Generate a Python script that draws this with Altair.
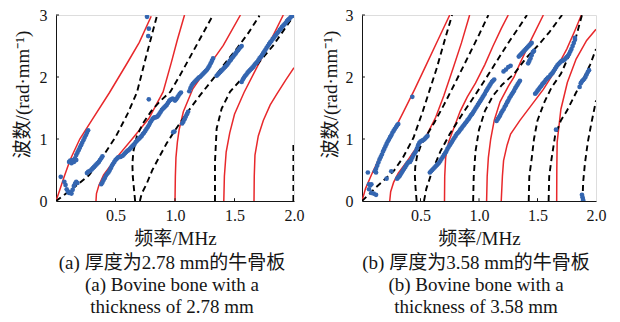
import altair as alt
import pandas as pd

SERIF = "Liberation Serif, Noto Sans CJK SC"
RED = "#e8282b"
BLUE = "#3466b1"
INK = "#151515"

# ---------------- panel (a): 2.78 mm ----------------
A_RED = [
    ([0, 0.03, 0.07, 0.12, 0.2, 0.3, 0.45, 0.6, 0.7, 0.8],
     [0, 0.17, 0.4, 0.67, 1.0, 1.3, 1.75, 2.23, 2.56, 2.98]),
    ([0.336, 0.34, 0.36, 0.4, 0.5, 0.64, 0.78, 0.9, 0.97, 1.02, 1.08],
     [0, 0.12, 0.25, 0.42, 0.68, 1.0, 1.33, 1.76, 2.24, 2.6, 3.0]),
    ([1.0, 1.003, 1.008, 1.02, 1.035, 1.07, 1.15, 1.266, 1.406, 1.55],
     [0, 0.4, 0.7, 0.95, 1.15, 1.44, 1.81, 2.13, 2.51, 3.0]),
    ([1.41, 1.415, 1.43, 1.46, 1.5, 1.58, 1.66, 1.74, 1.82, 1.91],
     [0, 0.4, 0.79, 1.1, 1.4, 1.75, 2.05, 2.35, 2.65, 3.0]),
    ([1.664, 1.666, 1.672, 1.7, 1.742, 1.8, 1.854, 1.93, 2.0],
     [0, 0.4, 0.74, 1.05, 1.3, 1.55, 1.72, 1.95, 2.15]),
]
A_DASH = [
    ([0, 0.14, 0.28, 0.38, 0.5, 0.6, 0.68, 0.76, 0.85],
     [0, 0.2, 0.42, 0.68, 1.03, 1.4, 1.75, 2.35, 3.0]),
    ([0.665, 0.655, 0.645, 0.642, 0.65, 0.68, 0.73, 0.8, 0.88, 0.96, 1.04, 1.12, 1.2, 1.26, 1.32],
     [0, 0.2, 0.4, 0.6, 0.8, 1.05, 1.25, 1.45, 1.62, 1.76, 2.02, 2.3, 2.58, 2.79, 3.0]),
    ([0.705, 0.72, 0.76, 0.81, 0.87, 0.93, 1.0, 1.1, 1.2, 1.32, 1.42, 1.52, 1.62, 1.71],
     [0, 0.12, 0.27, 0.5, 0.72, 0.93, 1.14, 1.42, 1.68, 1.97, 2.22, 2.46, 2.72, 2.99]),
    ([1.336, 1.336, 1.35, 1.392, 1.462, 1.56, 1.686, 1.826, 1.98],
     [0, 0.63, 1.17, 1.49, 1.76, 1.97, 2.19, 2.51, 2.94]),
    ([1.995, 1.995], [0, 0.95]),
]
A_PTS = [
    (0.04, 0.39), (0.07, 0.31), (0.08, 0.26), (0.09, 0.19), (0.10, 0.15), (0.11, 0.13), (0.12, 0.14),
    (0.13, 0.12), (0.14, 0.18), (0.15, 0.24), (0.16, 0.28), (0.17, 0.31), (0.18, 0.29),
    (0.11, 0.63), (0.12, 0.65), (0.13, 0.61), (0.14, 0.66), (0.15, 0.63), (0.16, 0.69), (0.17, 0.66),
    (0.17, 0.74), (0.18, 0.78), (0.19, 0.82), (0.20, 0.86), (0.21, 0.90), (0.22, 0.94), (0.23, 0.98),
    (0.24, 1.02), (0.25, 1.06), (0.26, 1.10), (0.27, 1.14),
    (0.26, 0.45), (0.27, 0.47), (0.28, 0.48), (0.29, 0.49), (0.30, 0.51), (0.31, 0.53), (0.32, 0.55),
    (0.33, 0.57), (0.34, 0.59), (0.35, 0.61), (0.36, 0.63), (0.37, 0.66), (0.38, 0.69), (0.39, 0.72),
    (0.38, 0.27), (0.39, 0.30), (0.40, 0.34), (0.41, 0.37), (0.42, 0.41), (0.43, 0.44), (0.44, 0.46),
    (0.45, 0.49), (0.46, 0.53), (0.47, 0.57), (0.48, 0.60), (0.49, 0.63), (0.50, 0.66), (0.51, 0.68),
    (0.52, 0.70), (0.53, 0.71), (0.54, 0.71), (0.55, 0.72), (0.56, 0.73), (0.57, 0.75), (0.58, 0.77),
    (0.59, 0.79), (0.60, 0.81), (0.61, 0.82), (0.62, 0.84), (0.63, 0.86), (0.64, 0.88), (0.65, 0.90),
    (0.66, 0.92), (0.67, 0.95), (0.68, 0.97), (0.69, 0.99), (0.70, 1.01), (0.71, 1.03), (0.72, 1.05),
    (0.73, 1.08), (0.74, 1.10), (0.75, 1.13), (0.76, 1.16), (0.77, 1.19), (0.78, 1.22), (0.79, 1.26),
    (0.80, 1.29), (0.81, 1.32), (0.82, 1.34), (0.83, 1.35), (0.84, 1.35), (0.85, 1.36), (0.86, 1.38),
    (0.87, 1.41), (0.88, 1.44), (0.89, 1.47), (0.90, 1.49), (0.91, 1.51), (0.92, 1.53), (0.93, 1.55),
    (0.94, 1.58), (0.95, 1.61), (0.96, 1.63), (0.97, 1.64), (0.98, 1.65), (0.99, 1.64), (1.00, 1.62),
    (1.01, 1.64), (1.02, 1.67), (1.03, 1.70), (1.04, 1.73), (1.05, 1.75),
    (0.78, 1.64), (0.775, 2.66), (0.78, 2.78), (0.765, 2.97), (0.985, 1.11), (0.995, 1.12),
    (1.06, 1.25), (1.07, 1.28), (1.08, 1.32), (1.09, 1.36), (1.10, 1.40), (1.11, 1.44),
    (1.12, 1.77), (1.13, 1.82), (1.14, 1.86), (1.15, 1.89), (1.16, 1.91), (1.17, 1.93), (1.18, 1.95),
    (1.19, 1.97), (1.20, 1.99), (1.21, 2.00), (1.22, 2.02), (1.23, 2.04), (1.24, 2.06), (1.25, 2.08),
    (1.26, 2.10), (1.27, 2.12), (1.28, 2.15), (1.29, 2.18), (1.30, 2.22), (1.31, 2.26), (1.32, 2.30),
    (1.35, 2.02), (1.36, 2.04), (1.37, 2.06), (1.38, 2.08), (1.39, 2.10), (1.40, 2.12), (1.41, 2.14),
    (1.42, 2.16), (1.43, 2.18), (1.44, 2.20), (1.45, 2.23), (1.46, 2.26), (1.47, 2.28), (1.48, 2.31),
    (1.49, 2.33), (1.50, 2.36), (1.51, 2.38), (1.52, 2.41), (1.53, 2.43), (1.54, 2.46), (1.55, 2.48),
    (1.56, 2.50),
    (1.56, 1.92), (1.57, 1.96), (1.58, 1.99), (1.59, 2.02), (1.60, 2.04), (1.61, 2.07), (1.62, 2.09),
    (1.63, 2.11), (1.64, 2.13), (1.65, 2.15), (1.66, 2.17), (1.67, 2.20), (1.68, 2.22), (1.69, 2.24),
    (1.70, 2.27), (1.71, 2.30), (1.72, 2.32), (1.73, 2.35), (1.74, 2.38), (1.75, 2.41), (1.76, 2.44),
    (1.77, 2.47), (1.78, 2.50), (1.79, 2.53), (1.80, 2.56), (1.81, 2.58), (1.82, 2.61), (1.83, 2.63),
    (1.84, 2.66), (1.85, 2.68), (1.86, 2.71), (1.87, 2.73), (1.88, 2.76), (1.89, 2.78), (1.90, 2.81),
    (1.91, 2.83), (1.92, 2.85), (1.93, 2.87), (1.94, 2.90), (1.95, 2.92), (1.96, 2.94), (1.97, 2.96),
    (1.98, 2.98), (1.99, 2.99),
]

# ---------------- panel (b): 3.58 mm ----------------
B_RED = [
    ([0, 0.03, 0.08, 0.15, 0.25, 0.35, 0.45, 0.55, 0.65, 0.75],
     [0, 0.2, 0.42, 0.7, 1.05, 1.42, 1.8, 2.2, 2.6, 3.0]),
    ([0.237, 0.245, 0.27, 0.31, 0.37, 0.45, 0.55, 0.63, 0.7, 0.78, 0.85, 0.92],
     [0, 0.15, 0.3, 0.45, 0.6, 0.82, 1.05, 1.35, 1.7, 2.15, 2.55, 3.0]),
    ([0.705, 0.707, 0.715, 0.74, 0.79, 0.84, 0.9, 0.97, 1.05, 1.12, 1.19, 1.25],
     [0, 0.4, 0.7, 0.95, 1.2, 1.45, 1.68, 1.9, 2.2, 2.5, 2.78, 3.0]),
    ([1.065, 1.07, 1.08, 1.1, 1.13, 1.18, 1.25, 1.3, 1.35, 1.45, 1.55],
     [0, 0.4, 0.7, 1.0, 1.3, 1.6, 1.85, 2.0, 2.22, 2.62, 3.0]),
    ([1.19, 1.2, 1.21, 1.24, 1.27, 1.35, 1.45, 1.55, 1.65, 1.75, 1.82, 1.875],
     [0, 0.4, 0.65, 0.9, 1.08, 1.3, 1.55, 1.8, 2.1, 2.45, 2.75, 3.0]),
    ([1.664, 1.665, 1.668, 1.7, 1.755, 1.83, 1.92, 2.0],
     [0, 0.5, 0.95, 1.48, 1.91, 2.29, 2.59, 2.77]),
]
B_DASH = [
    ([0, 0.12, 0.27, 0.35, 0.44, 0.52, 0.58, 0.64, 0.7, 0.77],
     [0, 0.22, 0.48, 0.7, 1.02, 1.45, 1.8, 2.15, 2.55, 3.0]),
    ([0.467, 0.458, 0.452, 0.455, 0.47, 0.5, 0.55, 0.62, 0.7, 0.8, 0.9, 1.0, 1.08],
     [0, 0.2, 0.4, 0.55, 0.72, 0.88, 1.05, 1.27, 1.55, 1.92, 2.3, 2.68, 3.0]),
    ([0.53, 0.55, 0.6, 0.67, 0.75, 0.85, 0.95, 1.05, 1.15, 1.25, 1.33, 1.41],
     [0, 0.2, 0.48, 0.8, 1.08, 1.38, 1.66, 1.95, 2.25, 2.55, 2.77, 3.0]),
    ([0.95, 0.955, 0.97, 1.0, 1.05, 1.12, 1.2, 1.3, 1.4, 1.5, 1.6, 1.71],
     [0, 0.4, 0.8, 1.15, 1.45, 1.7, 1.88, 2.05, 2.3, 2.5, 2.72, 3.0]),
    ([1.425, 1.43, 1.45, 1.47, 1.5, 1.56, 1.62, 1.7, 1.77, 1.83, 1.88],
     [0, 0.4, 0.68, 1.0, 1.3, 1.6, 1.83, 2.05, 2.35, 2.65, 3.0]),
    ([1.595, 1.6, 1.62, 1.65, 1.7, 1.75, 1.83, 1.9, 1.95, 2.0],
     [0, 0.4, 0.68, 1.05, 1.3, 1.45, 1.75, 2.0, 2.2, 2.45]),
    ([1.885, 1.89, 1.905, 1.93, 1.96, 1.985, 2.0],
     [0, 0.3, 0.6, 0.95, 1.25, 1.48, 1.62]),
]
B_PTS = [
    (0.05, 0.46), (0.06, 0.27), (0.07, 0.25), (0.08, 0.27), (0.06, 0.19), (0.08, 0.13), (0.10, 0.12),
    (0.12, 0.10), (0.21, 0.36), (0.25, 0.48), (0.43, 1.68),
    (0.11, 0.48), (0.12, 0.52), (0.12, 0.46), (0.13, 0.57), (0.14, 0.62), (0.15, 0.67), (0.16, 0.71),
    (0.17, 0.75), (0.18, 0.80), (0.19, 0.84), (0.20, 0.88), (0.21, 0.92), (0.22, 0.96), (0.23, 0.99),
    (0.24, 1.03), (0.25, 1.06), (0.26, 1.10), (0.27, 1.13), (0.28, 1.16), (0.29, 1.19), (0.30, 1.22),
    (0.31, 1.24),
    (0.30, 0.36), (0.31, 0.38), (0.32, 0.40), (0.33, 0.43), (0.34, 0.46), (0.35, 0.49), (0.36, 0.52),
    (0.37, 0.55), (0.38, 0.58), (0.39, 0.61), (0.40, 0.63), (0.41, 0.63), (0.42, 0.66), (0.43, 0.70),
    (0.44, 0.74), (0.45, 0.77), (0.46, 0.80), (0.47, 0.85), (0.48, 0.90), (0.49, 0.94), (0.50, 0.96),
    (0.51, 0.97), (0.52, 0.98), (0.53, 0.99), (0.54, 1.01), (0.55, 1.03), (0.56, 1.05),
    (0.58, 0.46), (0.59, 0.48), (0.60, 0.50), (0.61, 0.52), (0.62, 0.54), (0.63, 0.56), (0.64, 0.58),
    (0.65, 0.60), (0.66, 0.62), (0.67, 0.65), (0.68, 0.68), (0.69, 0.71), (0.70, 0.74), (0.71, 0.77),
    (0.72, 0.80), (0.73, 0.84), (0.74, 0.87), (0.75, 0.90), (0.76, 0.93), (0.77, 0.96), (0.78, 0.99),
    (0.79, 1.02), (0.80, 1.05), (0.81, 1.08), (0.82, 1.10), (0.83, 1.12), (0.84, 1.15), (0.85, 1.17),
    (0.86, 1.20), (0.87, 1.22), (0.88, 1.25), (0.89, 1.27), (0.90, 1.30), (0.91, 1.32), (0.92, 1.35),
    (0.93, 1.38), (0.94, 1.40), (0.95, 1.43), (0.96, 1.46), (0.97, 1.49), (0.98, 1.52), (0.99, 1.55),
    (1.00, 1.58), (1.01, 1.61), (1.02, 1.64), (1.03, 1.67), (1.04, 1.70), (1.05, 1.73), (1.06, 1.77),
    (1.07, 1.80), (1.08, 1.83), (1.09, 1.86), (1.10, 1.89), (1.11, 1.92), (1.12, 1.94), (1.13, 1.96),
    (1.15, 1.29), (1.16, 1.32), (1.17, 1.35), (1.18, 1.38), (1.19, 1.42), (1.20, 1.45), (1.21, 1.48),
    (1.22, 1.52), (1.23, 1.55), (1.24, 1.59), (1.25, 1.62), (1.26, 1.66), (1.27, 1.69), (1.28, 1.72),
    (1.29, 1.75), (1.30, 1.78), (1.31, 1.82), (1.32, 1.85), (1.33, 1.88), (1.34, 1.91), (1.35, 1.94),
    (1.21, 2.09), (1.23, 2.12), (1.25, 2.16), (1.27, 2.18),
    (1.34, 2.33), (1.35, 2.35), (1.36, 2.37), (1.37, 2.39), (1.38, 2.41), (1.39, 2.43), (1.40, 2.45),
    (1.41, 2.47), (1.42, 2.49), (1.43, 2.51), (1.44, 2.53), (1.45, 2.55),
    (1.42, 2.22), (1.43, 2.26), (1.44, 2.30), (1.45, 2.35), (1.46, 2.40), (1.47, 2.42),
    (1.48, 1.73), (1.49, 1.75), (1.50, 1.78), (1.51, 1.80), (1.52, 1.83), (1.53, 1.85), (1.54, 1.88),
    (1.55, 1.90), (1.56, 1.92), (1.57, 1.95), (1.58, 1.97), (1.59, 1.99), (1.60, 2.00), (1.61, 2.03),
    (1.62, 2.05), (1.63, 2.07), (1.64, 2.10), (1.65, 2.13), (1.66, 2.16), (1.67, 2.19), (1.68, 2.21),
    (1.69, 2.23), (1.70, 2.25), (1.71, 2.26), (1.72, 2.27), (1.73, 2.28), (1.74, 2.30), (1.75, 2.32),
    (1.76, 2.34), (1.77, 2.37), (1.78, 2.41), (1.79, 2.45), (1.80, 2.50), (1.81, 2.55), (1.82, 2.60),
    (1.82, 2.63),
    (1.658, 1.15),
    (1.86, 1.84), (1.87, 1.90), (1.88, 1.93), (1.89, 1.95), (1.90, 1.97), (1.91, 2.00), (1.92, 2.04),
    (1.93, 2.08), (1.94, 2.11),
    (1.88, 0.10), (1.885, 0.06), (1.89, 0.02), (1.89, 0.0),
]

X_TICKS = [0.5, 1.0, 1.5, 2.0]
Y_TICKS = [0, 1, 2, 3]
CAPTION_A = ["(a) 厚度为2.78 mm的牛骨板", "(a) Bovine bone with a", "thickness of 2.78 mm"]
CAPTION_B = ["(b) 厚度为3.58 mm的牛骨板", "(b) Bovine bone with a", "thickness of 3.58 mm"]


def curves_df(curves):
    rows = []
    for c, (fs, ks) in enumerate(curves):
        for i, (f, k) in enumerate(zip(fs, ks)):
            rows.append({"c": c, "i": i, "f": f, "k": k})
    return pd.DataFrame(rows)


def panel(red, dash, pts, width, caption, title_x):
    xs = alt.Scale(domain=[0, 2], nice=False, zero=False)
    ys = alt.Scale(domain=[0, 3], nice=False, zero=False)
    xaxis = alt.Axis(values=X_TICKS, format=".1f", title="频率/MHz", ticks=False, grid=False,
                     domainColor=INK, domainWidth=1, labelFont=SERIF, labelFontSize=16,
                     labelColor=INK, labelPadding=6, labelFlush=False,
                     titleFont=SERIF, titleFontSize=19, titleFontWeight="normal", titleColor=INK,
                     titleY=37, titleBaseline="middle")
    yaxis = alt.Axis(values=Y_TICKS, format="d", title="波数/(rad·mm⁻¹)", ticks=False, grid=False,
                     domainColor=INK, domainWidth=1, labelFont=SERIF, labelFontSize=16,
                     labelColor=INK, labelPadding=9, labelFlush=False,
                     titleFont=SERIF, titleFontSize=19, titleFontWeight="normal", titleColor=INK,
                     titleAngle=270, titleX=title_x, titleY=79, titleBaseline="middle",
                     titleAlign="center")

    red_l = alt.Chart(curves_df(red)).mark_line(color=RED, strokeWidth=1.5, clip=True).encode(
        x=alt.X("f:Q", scale=xs, axis=xaxis), y=alt.Y("k:Q", scale=ys, axis=yaxis),
        detail="c:N", order="i:Q")
    dash_l = alt.Chart(curves_df(dash)).mark_line(color="black", strokeWidth=1.9,
                                                  strokeDash=[6, 4], clip=True).encode(
        x=alt.X("f:Q", scale=xs), y=alt.Y("k:Q", scale=ys), detail="c:N", order="i:Q")
    pdf = pd.DataFrame(pts, columns=["f", "k"])
    pts_l = alt.Chart(pdf).mark_circle(color=BLUE, size=22, opacity=1, clip=True).encode(
        x=alt.X("f:Q", scale=xs), y=alt.Y("k:Q", scale=ys))
    xt = alt.Chart(pd.DataFrame({"f": X_TICKS[:-1], "k0": 0.0, "k1": 0.045})).mark_rule(
        color=INK, strokeWidth=1).encode(x=alt.X("f:Q", scale=xs), y=alt.Y("k0:Q", scale=ys),
                                        y2="k1:Q")
    yt = alt.Chart(pd.DataFrame({"k": Y_TICKS[1:], "f0": 0.0, "f1": 0.025})).mark_rule(
        color=INK, strokeWidth=1).encode(y=alt.Y("k:Q", scale=ys), x=alt.X("f0:Q", scale=xs),
                                        x2="f1:Q")
    return alt.layer(red_l, dash_l, pts_l, xt, yt).properties(
        width=width, height=186,
        title=alt.TitleParams(text=caption, orient="bottom", anchor="middle", frame="group",
                              font=SERIF, fontSize=19, fontWeight="normal", color=INK,
                              lineHeight=22, offset=6, baseline="top", dx=-3))


left = panel(A_RED, A_DASH, A_PTS, 238, CAPTION_A, -34)
right = panel(B_RED, B_DASH, B_PTS, 234, CAPTION_B, -32)

chart = alt.hconcat(left, right, spacing=68, bounds="flush").properties(
    padding={"left": 4, "top": -2, "right": 0, "bottom": 0}
).configure_view(stroke=None).configure(background="white")

chart.save("out.html", embed_options={"renderer": "svg", "actions": False})
